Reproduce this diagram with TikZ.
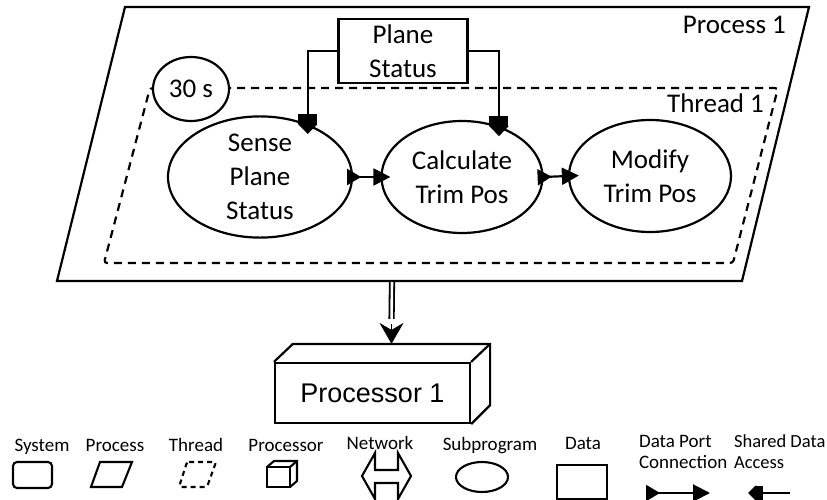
\documentclass[tikz,border=0pt]{standalone}
\usepackage{fontspec}
\setmainfont{Carlito}
\newfontfamily\arialfont{Liberation Sans}
\usetikzlibrary{arrows.meta,shapes.geometric,calc}
\begin{document}
\begin{tikzpicture}[x=1pt,y=-1pt,
  line width=2.2pt,
  bigtext/.style={font=\fontsize{27}{34}\selectfont, inner sep=0pt},
  legtext/.style={font=\fontsize{19}{21}\selectfont, inner sep=0pt},
  sub/.style={draw, ellipse, inner xsep=0pt, inner ysep=-8pt, align=center, bigtext},
  dataport/.style={{Triangle[reversed,length=14pt,width=16pt]}-{Triangle[length=17pt,width=17pt]}},
  shared/.style={-{Square[length=10pt,width=19pt,sep=0pt]Triangle[length=10pt,width=19pt]}},
  sharedleg/.style={-{Square[length=7pt,width=15pt,sep=0pt]Triangle[length=8pt,width=15pt]}},
  threadline/.style={dash pattern=on 8pt off 6pt}
]
\useasboundingbox (0,0) rectangle (827,500);

% Process
\draw (125,7) -- (809,7) -- (742,281) -- (57,281) -- cycle;
\node[bigtext, anchor=base east] (plabel) at (787,34) {Process 1};
\coordinate (procbot) at (392,282);

% Thread
\draw[threadline, rounded corners=3pt] (150,88) -- (778,88) -- (733,263) -- (104,263) -- cycle;
\node[bigtext, anchor=base east] (tlabel) at (765,113) {Thread 1};
\node[draw, ellipse, fill=white, minimum width=76pt, minimum height=64pt, bigtext] (period) at (191,89) {30 s};

% Data
\node[draw, minimum width=129pt, minimum height=64pt, align=center, bigtext] (ps) at (403,51) {Plane\\Status};

% Subprograms
\node[sub, minimum width=184pt, minimum height=112pt] (sense) at (260,177) {Sense\\Plane\\Status};
\node[sub, minimum width=161pt, minimum height=112pt] (calc) at (462,177) {Calculate\\Trim Pos};
\node[sub, minimum width=162pt, minimum height=112pt] (mod) at (650,176) {Modify\\Trim Pos};

% Shared data access
\draw[shared, shorten >=-10pt] (ps.west) -| (sense.48);
\draw[shared, shorten >=-10pt] (ps.east) -| (calc.54);

% Data port connections
\draw[dataport, shorten <=-6pt, shorten >=-10pt] (sense.east) -- (calc.west);
\draw[dataport, shorten <=-6pt, shorten >=-11pt] (calc.east) -- (mod.west);

% Processor
\node[draw, minimum width=195pt, minimum height=60pt, inner sep=0pt,
      font=\arialfont\fontsize{27}{30}\selectfont] (proc) at (372.5,393) {Processor 1};
\draw (proc.north west) -- ++(19,-18) -| ($(proc.south east)+(19,-19)$) -- (proc.south east);
\draw (proc.north east) -- ++(19,-18);
\coordinate (proctop) at ($(proc.north)+(19,-18)$);
\coordinate (headbase) at ($(proctop)+(0,-20)$);
\draw[line width=1.8pt, double, double distance=2.6pt, shorten >=5pt] (procbot) -- (headbase);
\draw[line width=1.5pt, -{Stealth[length=21pt,width=24pt,inset=7pt]}] (headbase) -- (proctop);

% Legend labels
\node[legtext, anchor=base] (lsys) at (42,451) {System};
\node[legtext, anchor=base] (lproc) at (115,451) {Process};
\node[legtext, anchor=base] (lthr) at (196,451) {Thread};
\node[legtext, anchor=base] (lcpu) at (286,451) {Processor};
\node[legtext, anchor=base] (lnet) at (380,449) {Network};
\node[legtext, anchor=base] (lsub) at (490,450) {Subprogram};
\node[legtext, anchor=base] (ldat) at (583,449) {Data};
\node[legtext, anchor=west, align=left] (ldp) at (638,452) {Data Port\\Connection};
\node[legtext, anchor=west, align=left, font=\fontsize{18.5}{21}\selectfont] (lsda) at (733,452) {Shared Data\\Access};

% Legend icons
\begin{scope}[line width=2.1pt]
\draw[rounded corners=4pt] (13,462) rectangle (52,488);
\draw (100,462) -- (132,462) -- (122,487) -- (91,487) -- cycle;
\draw[dash pattern=on 5pt off 4pt, rounded corners=2pt] (187,462) -- (216,462) -- (207,487) -- (179,487) -- cycle;
\draw (267,467) rectangle (290,487);
\draw (267,467) -- ++(7,-6) -- ++(23,0) -- ++(0,20) -- (290,487);
\draw (290,467) -- ++(7,-6);
\draw (362,476) -- (375,453) -- (375,470) -- (398,470) -- (398,453) -- (411,476) -- (398,499) -- (398,483) -- (375,483) -- (375,499) -- cycle;
\draw (482,477) ellipse [x radius=26, y radius=15];
\draw (557,465) rectangle (607,499);
\coordinate (dpa) at (646,493);
\coordinate (dpb) at (710,493);
\draw[dataport] (dpa) -- (dpb);
\coordinate (sda) at (790,493);
\coordinate (sdb) at (748,493);
\draw[sharedleg] (sda) -- (sdb);
\end{scope}
\end{tikzpicture}
\end{document}
